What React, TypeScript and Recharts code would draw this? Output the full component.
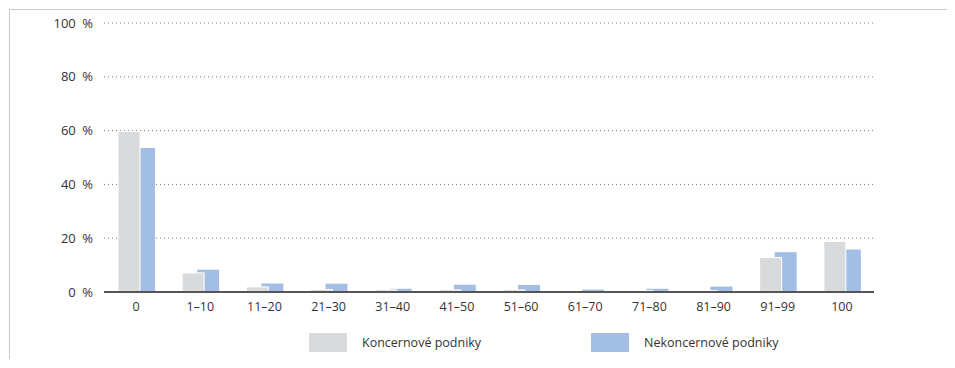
import React from 'react';
import { BarChart, Bar, XAxis, YAxis, CartesianGrid, Rectangle } from 'recharts';

const categories = ['0', '1–10', '11–20', '21–30', '31–40', '41–50', '51–60', '61–70', '71–80', '81–90', '91–99', '100'];
const koncernove = [59.7, 7.1, 1.9, 0.9, 0.8, 0.8, 0.8, 0, 0.5, 0.5, 12.8, 18.8];
const nekoncernove = [53.5, 8.3, 3.2, 3.1, 1.2, 2.7, 2.6, 0.9, 1.2, 2.0, 14.8, 15.8];
const yTicks = [0, 20, 40, 60, 80, 100];

const series = [
  { key: 'koncernove', name: 'Koncernové podniky', color: '#d9dadb' },
  { key: 'nekoncernove', name: 'Nekoncernové podniky', color: '#a2bfe3' },
];

const data = categories.map((c, i) => ({
  category: c,
  koncernove: koncernove[i],
  nekoncernove: nekoncernove[i],
}));

const BAR_SIZE = 22;
const BAR_GAP = -7;
// gray bars sit on the left but are painted over the blue ones,
// so the blue Bar comes first and the two slots are swapped in the shape
const SLOT = BAR_SIZE + BAR_GAP;
const shifted = (dx: number) => (props: any) => <Rectangle {...props} x={props.x + dx} />;

const FONT = '"Open Sans", "Noto Sans", sans-serif';
const tickStyle = { fontSize: 12.5, fill: '#333', fontFamily: FONT };

export default function App() {
  return (
    <div
      style={{
        position: 'relative',
        left: 1,
        top: 1,
        width: 946,
        height: 351,
        boxSizing: 'border-box',
        borderTop: '1px solid #c9c9c9',
        borderLeft: '1px solid #c9c9c9',
        overflow: 'hidden',
      }}
    >
      <BarChart
        width={940}
        height={340}
        data={data}
        margin={{ top: 13, right: 76, bottom: 28, left: 1 }}
        barSize={BAR_SIZE}
        barGap={BAR_GAP}
      >
        <CartesianGrid vertical={false} stroke="#777" strokeDasharray="1 3" />
        <XAxis
          dataKey="category"
          tickLine={false}
          axisLine={{ stroke: '#555', strokeWidth: 2 }}
          tick={tickStyle}
          tickMargin={4}
          height={30}
          interval={0}
        />
        <YAxis
          domain={[0, 100]}
          ticks={yTicks}
          tickFormatter={(v: number) => `${v}\u2002%`}
          axisLine={false}
          tickLine={false}
          tick={{ ...tickStyle, fontSize: 13 }}
          tickMargin={5}
          width={93}
        />
        <Bar
          dataKey="nekoncernove"
          name={series[1].name}
          fill={series[1].color}
          shape={shifted(SLOT)}
          isAnimationActive={false}
        />
        <Bar
          dataKey="koncernove"
          name={series[0].name}
          fill={series[0].color}
          stroke="#fff"
          strokeWidth={1}
          shape={shifted(-SLOT)}
          isAnimationActive={false}
        />
      </BarChart>
      <div
        style={{
          position: 'absolute',
          left: 299,
          top: 323,
          display: 'flex',
          fontFamily: FONT,
          fontSize: 12.5,
          color: '#333',
        }}
      >
        {series.map((s) => (
          <div key={s.key} style={{ width: 282, display: 'flex', alignItems: 'center' }}>
            <span style={{ display: 'inline-block', width: 38, height: 19, background: s.color, marginRight: 15 }} />
            <span>{s.name}</span>
          </div>
        ))}
      </div>
    </div>
  );
}
